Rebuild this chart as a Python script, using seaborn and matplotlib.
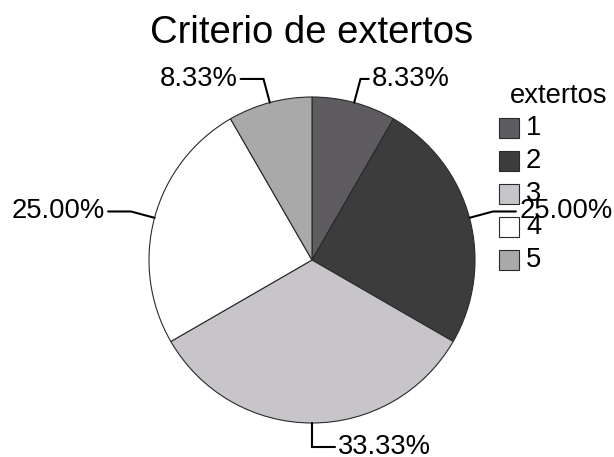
import numpy as np
import matplotlib
matplotlib.use("Agg")
import matplotlib.pyplot as plt
import seaborn as sns
from matplotlib.patches import Rectangle

# Expert ratings: number of responses per category
categories = ["1", "2", "3", "4", "5"]
counts = [1, 3, 4, 3, 1]
colors = ["#5e5c60", "#3c3c3c", "#c7c5c9", "#ffffff", "#a9a9a9"]
title = "Criterio de extertos"
legend_title = "extertos"

sns.set_style("white")
plt.rcParams["font.family"] = ["Liberation Sans", "DejaVu Sans"]

W, H = 614, 457
R = 163            # pie radius in pixels
CX, CY = 312, 260  # pie centre in pixels (from top-left)

fig = plt.figure(figsize=(W / 100, H / 100), dpi=100)
ax = fig.add_axes([0, 0, 1, 1])

wedges, _ = ax.pie(
    counts,
    colors=colors,
    startangle=90,
    counterclock=False,
    radius=1,
    wedgeprops=dict(edgecolor="#2a2a2a", linewidth=0.8),
)
ax.set_aspect("auto")
ax.set_xlim(-CX / R, (W - CX) / R)
ax.set_ylim(-(H - CY) / R, CY / R)
ax.axis("off")

# Elbow leader lines with percentage labels
leader_ext = [0.05, 0.14, 0.14, 0.14, 0.14]
total = sum(counts)
for w, c, ext in zip(wedges, counts, leader_ext):
    theta = np.deg2rad((w.theta1 + w.theta2) / 2)
    p = np.array([np.cos(theta), np.sin(theta)])
    elbow = 1.15 * p
    side = 1 if p[0] > -1e-6 else -1
    end = elbow + np.array([side * ext, 0])
    ax.plot([p[0], elbow[0], end[0]], [p[1], elbow[1], end[1]],
            color="black", lw=1.5, solid_joinstyle="miter", clip_on=False)
    ax.text(end[0] + side * 0.02, end[1], f"{100 * c / total:.2f}%",
            ha="left" if side > 0 else "right", va="center",
            fontsize=19.7, color="black")

# Title
fig.text(311.5 / W, 1 - 43 / H, title, ha="center", va="baseline",
         fontsize=27.5, color="black")

# Legend
fig.text(510 / W, 1 - 103 / H, legend_title, ha="left", va="baseline",
         fontsize=19.7, color="black")
for i, (lab, col) in enumerate(zip(categories, colors)):
    yc = 128 + 33 * i
    fig.add_artist(Rectangle((499 / W, 1 - (yc + 10) / H), 20 / W, 20 / H,
                             transform=fig.transFigure, facecolor=col,
                             edgecolor="#2a2a2a", linewidth=0.8))
    fig.text(526 / W, 1 - yc / H, lab, ha="left", va="center",
             fontsize=19.7, color="black")

fig.savefig("out.png", dpi=100)
